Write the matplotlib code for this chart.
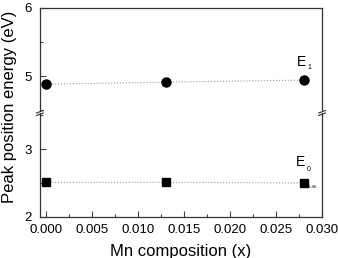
import matplotlib
matplotlib.use("Agg")
import matplotlib.pyplot as plt
from matplotlib.ticker import MultipleLocator

plt.rcParams['font.family'] = ['Liberation Sans', 'DejaVu Sans']

# Mn composition and peak energies
x_mn = [0.0, 0.013, 0.028]
e1 = [4.88, 4.91, 4.94]   # circles, upper panel
e0 = [2.51, 2.51, 2.50]   # squares, lower panel

xticks = [0.000, 0.005, 0.010, 0.015, 0.020, 0.025, 0.030]
xticklabels = ['0.000', '0.005', '0.010', '0.015', '0.020', '0.025', '0.030']

fig = plt.figure(figsize=(3.38, 2.58), dpi=100)
ax_top = fig.add_axes([0.118, 0.562, 0.835, 0.407])
ax_bot = fig.add_axes([0.118, 0.159, 0.835, 0.403])

for ax in (ax_top, ax_bot):
    ax.set_xlim(-0.0007, 0.030)
    ax.tick_params(direction='in', which='both', top=False, right=False,
                   labelsize=9.5, width=0.8, color='#444444')
    ax.tick_params(which='major', length=4)
    ax.tick_params(which='minor', length=2)
    ax.tick_params(axis='y', pad=6)
    ax.tick_params(axis='x', pad=5)
    ax.yaxis.set_minor_locator(MultipleLocator(0.5))
    for s in ax.spines.values():
        s.set_linewidth(0.9)
        s.set_color('#333333')

ax_top.plot(x_mn, e1, ':', color='#999999', lw=0.8)
ax_top.plot(x_mn, e1, 'o', color='black', ms=6.5, ls='none')
ax_top.set_ylim(4.456, 6)
ax_top.set_yticks([5, 6])
ax_top.spines['bottom'].set_visible(False)
ax_top.tick_params(axis='x', which='both', bottom=False, labelbottom=False)

ax_bot.plot(x_mn, e0, ':', color='#999999', lw=0.8)
ax_bot.plot(x_mn, e0, 's', color='black', ms=5.5, ls='none')
ax_bot.set_ylim(2, 3.53)
ax_bot.set_yticks([2, 3])
ax_bot.spines['top'].set_visible(False)
ax_bot.set_xticks(xticks)
ax_bot.set_xticklabels(xticklabels)
ax_bot.xaxis.set_minor_locator(MultipleLocator(0.0025))
ax_bot.set_xlabel('Mn composition (x)', fontsize=12, labelpad=6)

# break marks on the left and right spines
for xb in (0.0, 1.0):
    for dy in (-0.012, 0.012):
        ax_bot.plot([xb - 0.012, xb + 0.012], [1.0 + dy - 0.012, 1.0 + dy + 0.012],
                    transform=ax_bot.transAxes, color='#333333', lw=0.8,
                    clip_on=False)
    ax_bot.plot([xb - 0.01, xb + 0.01], [1.0, 1.0], transform=ax_bot.transAxes,
                color='white', lw=2.5, clip_on=False, zorder=0)

fig.text(0.028, 0.585, 'Peak position energy (eV)', rotation=90,
         fontsize=12, ha='center', va='center')

ax_top.text(0.0278, 5.21, 'E', fontsize=10, ha='center', va='center')
ax_top.text(0.0286, 5.12, '1', fontsize=5, ha='center', va='center')
ax_bot.text(0.0277, 2.81, 'E', fontsize=10, ha='center', va='center')
ax_bot.text(0.0285, 2.70, '0', fontsize=5, ha='center', va='center')
ax_bot.text(0.0289, 2.44, '22:46', fontsize=3, ha='center', va='center')

fig.savefig('out.png', dpi=100)
